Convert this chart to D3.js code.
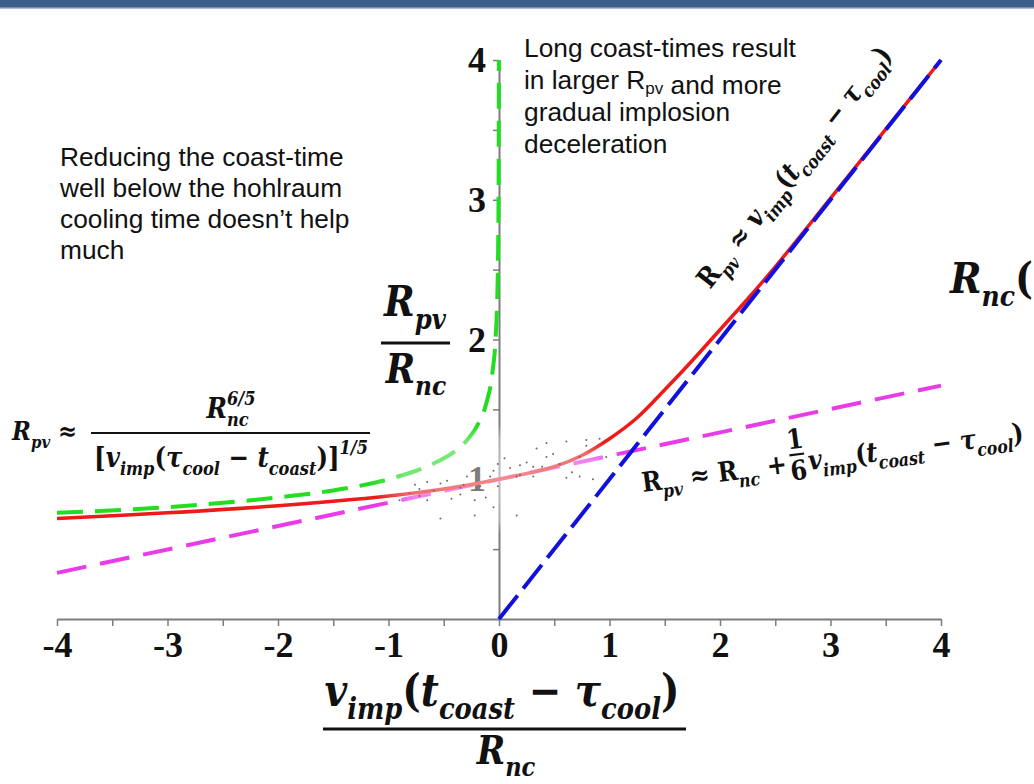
<!DOCTYPE html>
<html>
<head>
<meta charset="utf-8">
<script src="https://cdn.jsdelivr.net/npm/d3@7"></script>
<style>
  body { margin: 0; background: #fff; }
  svg { display: block; }
</style>
</head>
<body>
<svg id="chart" width="1034" height="784"></svg>
<script>
// x = v_imp (t_coast - tau_cool) / R_nc,  y = R_pv / R_nc
const fullX = [-4, -3, -2, -1, -0.5, 0, 0.5, 0.75, 1.0, 1.25, 1.5, 1.75, 2.0, 2.25, 2.5, 3, 4];
const fullY = [0.72, 0.76, 0.81, 0.88, 0.93, 1.0, 1.09, 1.17, 1.29, 1.44, 1.64, 1.85, 2.07, 2.29, 2.52, 3.01, 4.0];

// short coast-time asymptote (green)
const shortX = [-4, -3, -2, -1.5, -1, -0.6, -0.4, -0.3, -0.2, -0.12, -0.06, -0.03, -0.015, -0.008, -0.004, -0.0025, -0.0015, -0.001];
const shortY = [0.76, 0.80, 0.87, 0.92, 1.0, 1.11, 1.20, 1.27, 1.38, 1.53, 1.76, 2.02, 2.32, 2.63, 3.02, 3.31, 3.67, 4.0];

// linear (magenta) and long coast-time (blue) asymptotes
const linX = [-4, 4];
const linY = [0.33, 1.67];
const longX = [0, 4];
const longY = [0, 4];

// faint scatter round (0, 1)
const dotX = [-0.81, -0.76, -0.72, -0.65, -0.59, -0.53, -0.47, -0.43, -0.35, -0.32, -0.29, -0.22, -0.17, -0.12, -0.08, -0.05, -0.01, 0.05, 0.10, 0.16, 0.19, 0.25, 0.31, 0.34, 0.39, 0.43, 0.49, 0.55, 0.61, 0.66, 0.73, 0.79, 0.85, 0.91, 0.97, 0.73, 0.61, -0.05, 0.16, -0.22, -0.53, 0.79, 0.43, 0.31, 0.19, -0.01, -0.35, -0.65, -0.72, -0.90];
const dotY = [0.90, 0.96, 0.93, 0.98, 0.92, 0.97, 0.99, 0.86, 0.89, 0.96, 1.02, 0.85, 0.95, 0.87, 1.02, 1.06, 1.11, 1.15, 1.08, 1.02, 1.10, 1.12, 1.02, 1.22, 1.09, 1.16, 1.18, 1.11, 1.27, 1.05, 1.16, 1.24, 1.00, 1.29, 1.16, 1.02, 1.01, 0.80, 0.74, 0.74, 0.72, 1.28, 1.26, 1.09, 1.03, 0.95, 0.94, 0.85, 0.88, 0.85];

const xTicks = [-4, -3, -2, -1, 0, 1, 2, 3, 4];
const xTickLabels = ["-4", "-3", "-2", "-1", "0", "1", "2", "3", "4"];
const yTicks = [1, 2, 3, 4];

const W = 1034, H = 784;
const MATH = "'DejaVu Serif', 'Liberation Serif', serif";
const SANS = "'Liberation Sans', Arial, sans-serif";
const STRETCH = 1.14; // DejaVu is wider than the original math font

const svg = d3.select("#chart");

// header band
svg.append("rect").attr("width", W).attr("height", 8).attr("fill", "#3b5e8c");
svg.append("rect").attr("y", 7.5).attr("width", W).attr("height", 1.5).attr("fill", "#aebfd2");

const x = d3.scaleLinear().domain([-4, 4]).range([57, 941]);
const y = d3.scaleLinear().domain([0, 4]).range([619, 60]);

const zip = (a, b) => a.map((v, i) => [v, b[i]]);

// axes (ticks every 0.5, labels on the integers)
const xAxis = svg.append("g")
    .attr("transform", "translate(0," + y(0) + ")")
    .call(d3.axisBottom(x)
        .tickValues(d3.range(-4, 4.01, 0.5))
        .tickSize(7).tickSizeOuter(0).tickPadding(5)
        .tickFormat(d => {
            const i = xTicks.indexOf(d);
            return i < 0 ? "" : xTickLabels[i];
        }));

const yAxis = svg.append("g")
    .attr("transform", "translate(" + x(0) + ",0)")
    .call(d3.axisLeft(y)
        .tickValues(d3.range(0.5, 4.01, 0.5))
        .tickSize(6).tickSizeOuter(0).tickPadding(7)
        .tickFormat(d => yTicks.includes(d) ? d : ""));

[xAxis, yAxis].forEach(a => {
    a.select(".domain").attr("stroke", "#7d7d7d").attr("stroke-width", 2);
    a.selectAll(".tick line").attr("stroke", "#7d7d7d").attr("stroke-width", 1.5);
    a.selectAll(".tick text")
        .attr("font-family", "'Liberation Serif', 'Times New Roman', serif")
        .attr("font-weight", "bold")
        .attr("font-size", 36)
        .attr("fill", "#111");
});

const line = d3.line()
    .x(d => x(d[0]))
    .y(d => y(d[1]))
    .curve(d3.curveMonotoneX);

const smooth = d3.line()
    .x(d => x(d[0]))
    .y(d => y(d[1]))
    .curve(d3.curveCatmullRom.alpha(0.5));

svg.append("path")
    .datum(zip(shortX, shortY))
    .attr("d", line)
    .attr("fill", "none")
    .attr("stroke", "#22dd22")
    .attr("stroke-width", 4)
    .attr("stroke-dasharray", "26,12");

svg.append("path")
    .datum(zip(linX, linY))
    .attr("d", line)
    .attr("fill", "none")
    .attr("stroke", "#ea3be8")
    .attr("stroke-width", 4)
    .attr("stroke-dasharray", "30,14");

svg.append("path")
    .datum(zip(fullX, fullY))
    .attr("d", smooth)
    .attr("fill", "none")
    .attr("stroke", "#ee1a1a")
    .attr("stroke-width", 3.5);

// washed-out patch + scatter near (0, 1)
const defs = svg.append("defs");
const grad = defs.append("radialGradient").attr("id", "wash");
grad.append("stop").attr("offset", "0%").attr("stop-color", "#fff").attr("stop-opacity", 0.5);
grad.append("stop").attr("offset", "75%").attr("stop-color", "#fff").attr("stop-opacity", 0.35);
grad.append("stop").attr("offset", "100%").attr("stop-color", "#fff").attr("stop-opacity", 0);
svg.append("ellipse")
    .attr("cx", x(0.05)).attr("cy", y(1.0))
    .attr("rx", 135).attr("ry", 55)
    .attr("fill", "url(#wash)");

svg.append("g").selectAll("circle")
    .data(zip(dotX, dotY))
    .join("circle")
    .attr("cx", d => x(d[0]))
    .attr("cy", d => y(d[1]))
    .attr("r", 1)
    .attr("fill", "#6a6a6a");

svg.append("path")
    .datum(zip(longX, longY))
    .attr("d", line)
    .attr("fill", "none")
    .attr("stroke", "#1111dd")
    .attr("stroke-width", 4)
    .attr("stroke-dasharray", "30,9");

// ---- math text helpers ----
// parts: [string, kind]  kind: i = italic, r = upright, sub, sup, supb (sup stacked over previous sub)
function runText(g, parts, size, anchor) {
    const t = g.append("text")
        .attr("font-family", MATH)
        .attr("font-weight", "bold")
        .attr("font-size", size)
        .attr("fill", "#111")
        .attr("text-anchor", anchor || "start");
    let cur = 0, prev = null;
    parts.forEach(([s, k]) => {
        const small = k === "sub" || k === "sup" || k === "supb";
        const off = k === "sub" ? 0.3 * size : (k === "sup" || k === "supb") ? -0.45 * size : 0;
        const ts = t.append("tspan")
            .attr("dy", off - cur)
            .attr("font-size", small ? 0.66 * size : size)
            .attr("font-style", k === "r" ? "normal" : "italic")
            .text(s);
        if (k === "supb" && prev) ts.attr("dx", -prev.node().getComputedTextLength());
        cur = off;
        prev = ts;
    });
    return t;
}

function place(parts, size, o) {
    const g = svg.append("g");
    const t = runText(g, parts, size, o.anchor);
    const s = o.width ? o.width / t.node().getBBox().width : 1;
    g.attr("transform", "translate(" + o.x + "," + o.y + ") rotate(" + (o.rot || 0) + ") scale(" + s + "," + (s * STRETCH) + ")");
    return g;
}

function bar(x1, x2, yy, w) {
    svg.append("line")
        .attr("x1", x1).attr("x2", x2).attr("y1", yy).attr("y2", yy)
        .attr("stroke", "#111").attr("stroke-width", w || 2);
}

const vimpCoast = [["v", "i"], ["imp", "sub"], ["(", "r"], ["t", "i"], ["coast", "sub"],
    [" − ", "r"], ["τ", "i"], ["cool", "sub"], [")", "r"]];

// y label R_pv / R_nc
place([["R", "i"], ["pv", "sub"]], 34, { x: 415, y: 316, width: 64, anchor: "middle" });
bar(381, 450, 343, 3);
place([["R", "i"], ["nc", "sub"]], 34, { x: 416, y: 383, width: 62, anchor: "middle" });

// x label
place(vimpCoast, 34, { x: 502, y: 706, width: 355, anchor: "middle" });
bar(323, 686, 729, 3);
place([["R", "i"], ["nc", "sub"]], 34, { x: 506, y: 764, width: 60, anchor: "middle" });

// short coast-time formula (left)
place([["R", "i"], ["pv", "sub"], [" ≈", "r"]], 25, { x: 12, y: 440, width: 66 });
place([["R", "i"], ["nc", "sub"], ["6/5", "supb"]], 25, { x: 231, y: 418, width: 50, anchor: "middle" });
bar(91, 370, 433, 2.2);
place([["[", "r"], ["v", "i"], ["imp", "sub"], ["(", "r"], ["τ", "i"], ["cool", "sub"], [" − ", "r"],
    ["t", "i"], ["coast", "sub"], [")]", "r"], ["1/5", "sup"]], 25,
    { x: 231, y: 467, width: 274, anchor: "middle" });

// long coast-time formula along the blue line
place([["R", "r"], ["pv", "sub"], [" ≈ ", "r"]].concat(vimpCoast), 25,
    { x: 710, y: 290, width: 298, rot: -52 });

// linear formula along the magenta line (with inline 1/6)
(function () {
    const size = 25;
    const g = svg.append("g");
    const a = runText(g, [["R", "r"], ["pv", "sub"], [" ≈ ", "r"], ["R", "r"], ["nc", "sub"], [" +", "r"]], size);
    const ab = a.node().getBBox();
    const fx = ab.x + ab.width + 4;
    const fw = 0.62 * size;
    g.append("text").attr("x", fx + fw / 2).attr("y", -0.85 * size)
        .attr("text-anchor", "middle").attr("font-family", MATH).attr("font-weight", "bold")
        .attr("font-size", size).attr("fill", "#111").text("1");
    g.append("text").attr("x", fx + fw / 2).attr("y", 0.3 * size)
        .attr("text-anchor", "middle").attr("font-family", MATH).attr("font-weight", "bold")
        .attr("font-size", size).attr("fill", "#111").text("6");
    g.append("line").attr("x1", fx).attr("x2", fx + fw)
        .attr("y1", -0.63 * size).attr("y2", -0.63 * size)
        .attr("stroke", "#111").attr("stroke-width", 2);
    const b = runText(g, vimpCoast, size);
    b.attr("x", fx + fw + 3);
    const s = 385 / g.node().getBBox().width;
    g.attr("transform", "translate(643,492) rotate(-7.5) scale(" + s + "," + (s * STRETCH) + ")");
})();

// clipped formula at the right edge
place([["R", "i"], ["nc", "sub"], ["(", "r"]], 38, { x: 950, y: 293 });

// ---- annotations ----
function note(lines, x0, y0, lh) {
    const t = svg.append("text")
        .attr("font-family", SANS)
        .attr("font-size", 26.3)
        .attr("fill", "#111");
    lines.forEach((ln, i) => {
        const row = t.append("tspan").attr("x", x0).attr("y", y0 + i * lh);
        ln.forEach(([s, k]) => {
            if (k === "sub") {
                row.append("tspan").attr("font-size", 17).attr("dy", 5).text(s);
                row.append("tspan").attr("dy", -5).text("");
            } else {
                row.append("tspan").text(s);
            }
        });
    });
}

note([
    [["Long coast-times result"]],
    [["in larger R"], ["pv", "sub"], [" and more"]],
    [["gradual implosion"]],
    [["deceleration"]]
], 524, 57, 32);

note([
    [["Reducing the coast-time"]],
    [["well below the hohlraum"]],
    [["cooling time doesn’t help"]],
    [["much"]]
], 60, 166, 31);
</script>
</body>
</html>
